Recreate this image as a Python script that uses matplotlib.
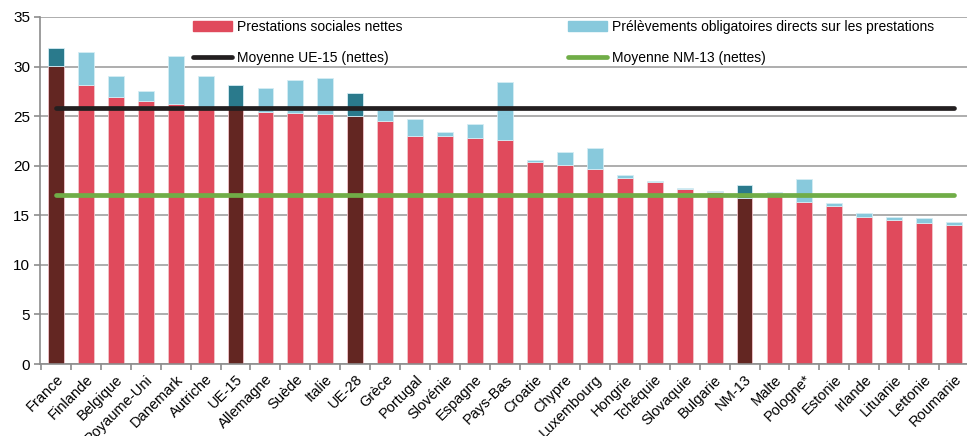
import matplotlib.pyplot as plt
import matplotlib.patches as mpatches
from matplotlib.lines import Line2D
import numpy as np

plt.rcParams['font.family'] = ['Liberation Sans', 'DejaVu Sans']

# données (% du PIB)
pays = ['France', 'Finlande', 'Belgique', 'Royaume-Uni', 'Danemark', 'Autriche',
        'UE-15', 'Allemagne', 'Suède', 'Italie', 'UE-28', 'Grèce', 'Portugal',
        'Slovénie', 'Espagne', 'Pays-Bas', 'Croatie', 'Chypre', 'Luxembourg',
        'Hongrie', 'Tchéquie', 'Slovaquie', 'Bulgarie', 'NM-13', 'Malte',
        'Pologne*', 'Estonie', 'Irlande', 'Lituanie', 'Lettonie', 'Roumanie']
nettes = [30.05, 28.1, 26.9, 26.55, 26.2, 25.8, 25.9, 25.4, 25.3, 25.2, 25.0,
          24.5, 23.0, 23.0, 22.8, 22.6, 20.4, 20.07, 19.67, 18.8, 18.35, 17.65,
          17.35, 16.7, 17.2, 16.3, 15.9, 14.85, 14.5, 14.25, 14.05]
brutes = [31.9, 31.5, 29.05, 27.5, 31.1, 29.05, 28.1, 27.8, 28.6, 28.8, 27.3,
          25.7, 24.7, 23.4, 24.2, 28.4, 20.6, 21.35, 21.75, 19.1, 18.42, 17.75,
          17.4, 18.1, 17.3, 18.7, 16.2, 15.25, 14.8, 14.7, 14.3]
agregats = ['France', 'UE-15', 'UE-28', 'NM-13']
moy_ue15 = 25.8
moy_nm13 = 17.0

rouge = '#e04a5c'
bleu_clair = '#88c9dc'
brun = '#632622'
bleu_fonce = '#2a7a8c'

nettes = np.array(nettes)
prelev = np.array(brutes) - nettes
x = np.arange(len(pays))
c_net = [brun if p in agregats else rouge for p in pays]
c_pre = [bleu_fonce if p in agregats else bleu_clair for p in pays]

fig = plt.figure(figsize=(9.67, 4.36), dpi=100)
ax = fig.add_axes([40/967, 1-364/436, 930/967, 347/436])

ax.bar(x, nettes, width=0.53, color=c_net, edgecolor='#f2c6cc', linewidth=0.6, zorder=2)
ax.bar(x, prelev, bottom=nettes, width=0.53, color=c_pre, edgecolor='#d4edf4',
       linewidth=0.6, zorder=2)

ax.plot(x, [moy_ue15]*len(x), color='#231f20', lw=3.4, solid_capstyle='round', zorder=3)
ax.plot(x, [moy_nm13]*len(x), color='#70ad47', lw=3.4, solid_capstyle='round', zorder=3)

ax.set_xlim(-0.53, len(pays) - 0.47)
ax.set_ylim(0, 35)
ax.set_yticks(range(0, 36, 5))
ax.yaxis.grid(True, color='#a0a0a0', lw=1.2, zorder=0)
ax.set_axisbelow(True)

ax.set_xticks(x)
ax.set_xticklabels(pays, rotation=45, ha='right', rotation_mode='anchor', fontsize=10.5)
ax.tick_params(axis='x', length=0, pad=6)
ax.set_xticks(np.arange(-0.5, len(pays), 1), minor=True)
ax.tick_params(axis='x', which='minor', length=4, color='#8c8c8c', width=1.2)
ax.tick_params(axis='y', length=4, color='#8c8c8c', width=1.2, labelsize=11, pad=3)

for s in ['top', 'right']:
    ax.spines[s].set_visible(False)
for s in ['left', 'bottom']:
    ax.spines[s].set_color('#8c8c8c')
    ax.spines[s].set_linewidth(1.2)

handles = [mpatches.Patch(color=rouge, label='Prestations sociales nettes'),
           Line2D([], [], color='#231f20', lw=3.4, solid_capstyle='round',
                  label='Moyenne UE-15 (nettes)'),
           mpatches.Patch(color=bleu_clair,
                          label='Prélèvements obligatoires directs sur les prestations'),
           Line2D([], [], color='#70ad47', lw=3.4, solid_capstyle='round',
                  label='Moyenne NM-13 (nettes)')]
leg = ax.legend(handles=handles, ncol=2, loc='upper left', bbox_to_anchor=(0.159, 1.008),
                frameon=False, fontsize=10, handlelength=2.8, handleheight=0.65,
                handletextpad=0.35, columnspacing=11.9, labelspacing=1.25,
                borderaxespad=0)
leg.set_zorder(5)

fig.savefig('out.png', dpi=100)
